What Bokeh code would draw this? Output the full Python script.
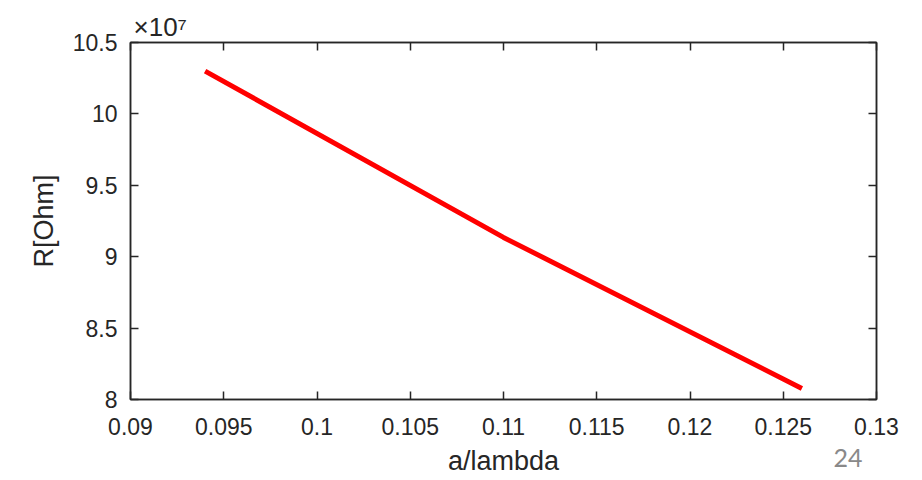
from bokeh.plotting import figure
from bokeh.models import Range1d, FixedTicker, LinearAxis, Title
from bokeh.embed import file_html
from bokeh.resources import INLINE

# data (R in units of 1e7 Ohm)
a_lambda = [0.094, 0.110, 0.126]
R_ohm_e7 = [10.30, 9.135, 8.077]

x_ticks = [0.09, 0.095, 0.1, 0.105, 0.11, 0.115, 0.12, 0.125, 0.13]
x_tick_labels = ["0.09", "0.095", "0.1", "0.105", "0.11", "0.115", "0.12", "0.125", "0.13"]
y_ticks = [8, 8.5, 9, 9.5, 10, 10.5]
y_tick_labels = ["8", "8.5", "9", "9.5", "10", "10.5"]

FONT = "Liberation Sans"
INK = "#262626"

p = figure(width=922, height=480, output_backend="svg", toolbar_location=None,
           x_range=Range1d(0.09, 0.13), y_range=Range1d(8, 10.5),
           x_axis_label="a/lambda", y_axis_label="R[Ohm]")
p.min_border_left = 130
p.min_border_right = 46
p.min_border_top = 42
p.min_border_bottom = 81
p.grid.visible = False
p.outline_line_color = INK
p.outline_line_width = 1.5
p.background_fill_color = "white"
p.border_fill_color = "white"

p.line(a_lambda, R_ohm_e7, line_color="#ff0000", line_width=5)

def style(ax, labels):
    ax.major_label_overrides = labels
    ax.major_label_text_font = FONT
    ax.major_label_text_font_size = "23px"
    ax.major_label_text_color = INK
    ax.axis_label_text_font = FONT
    ax.axis_label_text_font_size = "27px"
    ax.axis_label_text_font_style = "normal"
    ax.axis_label_text_color = INK
    ax.axis_line_color = INK
    ax.axis_line_width = 1.5
    ax.major_tick_line_color = INK
    ax.major_tick_line_width = 1.5
    ax.major_tick_in = 8
    ax.major_tick_out = 0
    ax.minor_tick_line_color = None

xa = p.xaxis[0]
xa.ticker = FixedTicker(ticks=x_ticks)
style(xa, {t: l for t, l in zip(x_ticks, x_tick_labels)})
xa.major_label_standoff = 18
xa.axis_label_standoff = 8

ya = p.yaxis[0]
ya.ticker = FixedTicker(ticks=y_ticks)
style(ya, {t: l for t, l in zip(y_ticks, y_tick_labels)})
ya.major_label_standoff = 13
ya.axis_label_standoff = 11

# mirrored ticks on top and right (no labels)
for ticks, place in ((x_ticks, "above"), (y_ticks, "right")):
    ax = LinearAxis(ticker=FixedTicker(ticks=ticks))
    ax.major_label_text_color = None
    ax.major_label_standoff = 0
    ax.axis_line_color = INK
    ax.axis_line_width = 1.5
    ax.major_tick_line_color = INK
    ax.major_tick_line_width = 1.5
    ax.major_tick_in = 8
    ax.major_tick_out = 0
    ax.minor_tick_line_color = None
    p.add_layout(ax, place)

# exponent label
p.add_layout(Title(text="×10⁷", align="left", offset=3, standoff=2,
                   text_font=FONT, text_font_size="26px", text_font_style="normal",
                   text_color=INK), "above")
# slide number
p.add_layout(Title(text="24", align="right", offset=14, standoff=-60,
                   vertical_align="top",
                   text_font="Lato", text_font_size="25px", text_font_style="normal",
                   text_color="#898989"), "below")

open("out.html", "w").write(file_html(p, INLINE))
